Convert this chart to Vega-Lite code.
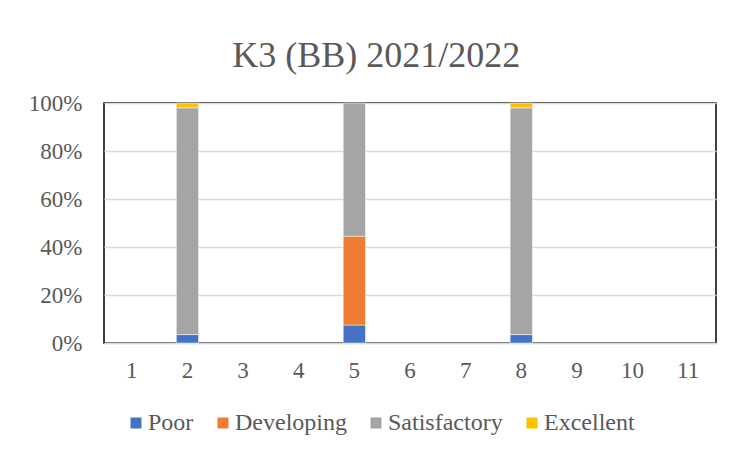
{
  "$schema": "https://vega.github.io/schema/vega-lite/v6.json",
  "autosize": "none",
  "width": 612,
  "height": 240,
  "padding": {"left": 104, "top": 103, "right": 21, "bottom": 114},
  "background": "white",
  "title": {
    "text": "K3 (BB) 2021/2022",
    "font": "Liberation Serif",
    "fontSize": 36,
    "fontWeight": "normal",
    "color": "#595959",
    "anchor": "middle",
    "frame": "bounds",
    "dx": 4,
    "offset": 17
  },
  "data": {
    "values": [
      {"Class": "2", "Level": "Poor", "Rank": 1, "Share": 0.035},
      {"Class": "2", "Level": "Satisfactory", "Rank": 3, "Share": 0.945},
      {"Class": "2", "Level": "Excellent", "Rank": 4, "Share": 0.02},
      {"Class": "5", "Level": "Poor", "Rank": 1, "Share": 0.075},
      {"Class": "5", "Level": "Developing", "Rank": 2, "Share": 0.37},
      {"Class": "5", "Level": "Satisfactory", "Rank": 3, "Share": 0.555},
      {"Class": "8", "Level": "Poor", "Rank": 1, "Share": 0.035},
      {"Class": "8", "Level": "Satisfactory", "Rank": 3, "Share": 0.945},
      {"Class": "8", "Level": "Excellent", "Rank": 4, "Share": 0.02}
    ]
  },
  "mark": {"type": "bar", "stroke": "white", "strokeWidth": 0.8, "strokeOpacity": 0.6},
  "encoding": {
    "x": {
      "field": "Class",
      "type": "ordinal",
      "scale": {"domain": ["1","2","3","4","5","6","7","8","9","10","11"], "paddingInner": 0.6, "paddingOuter": 0.3},
      "axis": {
        "title": null,
        "labelAngle": 0,
        "labelFontSize": 23,
        "labelColor": "#595959",
        "labelPadding": 16,
        "ticks": false,
        "domainColor": "#d9d9d9",
        "domainWidth": 1.5,
        "grid": false
      }
    },
    "y": {
      "field": "Share",
      "type": "quantitative",
      "stack": true,
      "scale": {"domain": [0, 1]},
      "axis": {
        "title": null,
        "format": ".0%",
        "values": [0, 0.2, 0.4, 0.6, 0.8, 1],
        "labelFontSize": 23,
        "labelColor": "#595959",
        "labelPadding": 22,
        "ticks": false,
        "domain": false,
        "gridColor": "#d9d9d9",
        "gridWidth": 1.5
      }
    },
    "order": {"field": "Rank", "type": "quantitative", "sort": "ascending"},
    "color": {
      "field": "Level",
      "type": "nominal",
      "sort": ["Poor", "Developing", "Satisfactory", "Excellent"],
      "scale": {
        "domain": ["Poor", "Developing", "Satisfactory", "Excellent"],
        "range": ["#4472C4", "#ED7D31", "#A5A5A5", "#FFC000"]
      },
      "legend": {
        "title": null,
        "orient": "none",
        "legendX": 20,
        "legendY": 308,
        "direction": "horizontal",
        "symbolType": "square",
        "symbolSize": 121,
        "symbolStrokeWidth": 0,
        "labelFontSize": 24,
        "labelColor": "#595959",
        "labelOffset": 0,
        "columnPadding": 17
      }
    }
  },
  "config": {
    "font": "Liberation Serif",
    "view": {"stroke": "black", "strokeWidth": 1.5}
  }
}
